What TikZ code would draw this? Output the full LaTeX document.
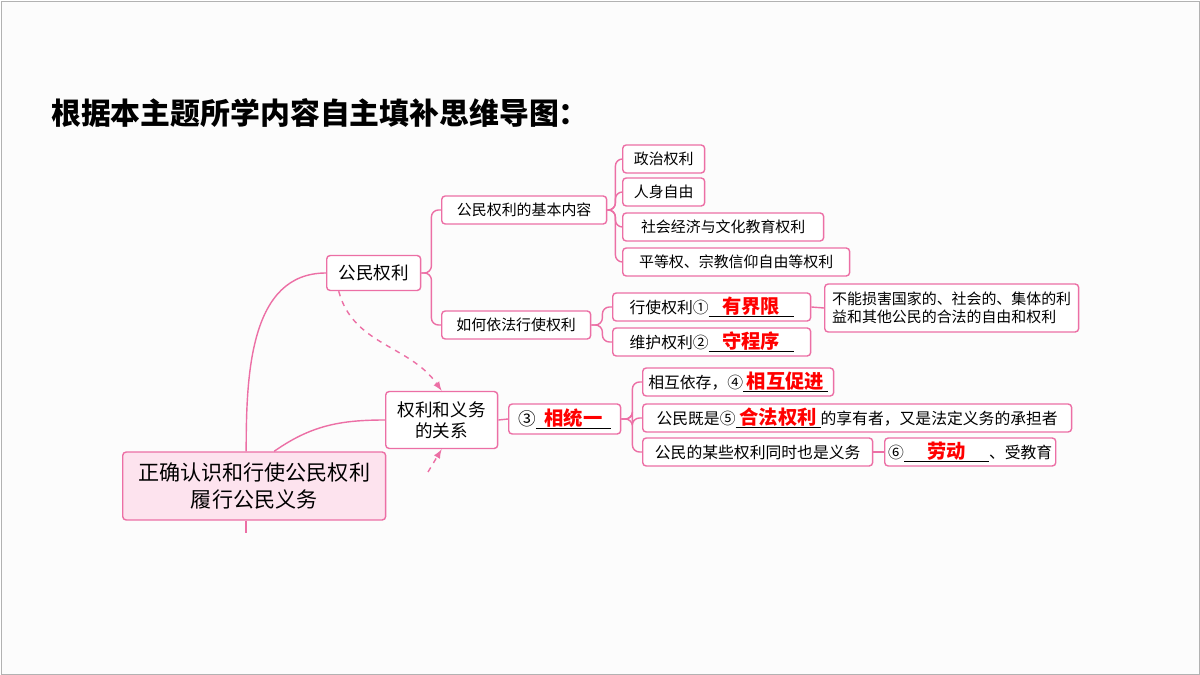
\documentclass[tikz,border=0pt]{standalone}
\usepackage{fontspec}
\setmainfont{Noto Sans CJK SC}
\definecolor{pk}{HTML}{EC6FA5}
\definecolor{pkfill}{HTML}{FDE3EE}
\newcommand\fillin[2]{\rlap{\rule[-2pt]{#1}{0.5pt}}\makebox[#1]{\color{red}\fontsize{11}{12}\selectfont\bfseries #2}}
\begin{document}
\begin{tikzpicture}[x=0.02cm,y=-0.02cm]
	\tikzset{bx/.style={draw=pk, thick, rounded corners=2pt, fill=white, inner sep=2pt, font=\fontsize{8.5}{10}\selectfont, anchor=west, minimum height=0.56cm},
	link/.style={draw=pk, thick, rounded corners=4pt},
	curv/.style={draw=pk, thick}};

	\useasboundingbox (0,0) rectangle (1200,675);
	\draw[gray!60, fill=gray!2] (1,1) rectangle (1199,674);

	\node[anchor=base west, font=\fontsize{17}{20}\selectfont\bfseries] (title) at (45,125) {根据本主题所学内容自主填补思维导图：};

	% root and main branches
	\node[bx, fill=pkfill, font=\fontsize{12}{15}\selectfont, align=center, minimum width=5.26cm, minimum height=1.36cm] (root) at (122,486) {正确认识和行使公民权利\\履行公民义务};
	\node[bx, font=\fontsize{10}{12}\selectfont, minimum width=1.88cm, minimum height=0.7cm] (gm) at (326,273) {公民权利};
	\node[bx, font=\fontsize{10}{12}\selectfont, align=center, minimum width=2.24cm, minimum height=1.14cm] (gx) at (385,420) {权利和义务\\的关系};
	\node[bx, font=\fontsize{10}{12}\selectfont, minimum width=2.24cm, minimum height=0.6cm] (ty) at (508,419) {③\fillin{1.5cm}{相统一}};

	% rights
	\node[bx, minimum width=3.3cm] (jb) at (441,210) {公民权利的基本内容};
	\node[bx, minimum width=2.98cm] (yf) at (441,325) {如何依法行使权利};
	\node[bx, minimum width=1.64cm] (zz) at (622,159) {政治权利};
	\node[bx, minimum width=1.64cm] (rs) at (622,192) {人身自由};
	\node[bx, minimum width=4.02cm] (sh) at (622,227) {社会经济与文化教育权利};
	\node[bx, minimum width=4.54cm] (pd) at (622,262) {平等权、宗教信仰自由等权利};
	\node[bx, minimum width=3.96cm, font=\fontsize{9}{11}\selectfont] (xs) at (612,307) {行使权利①\fillin{1.7cm}{有界限}};
	\node[bx, minimum width=3.96cm, font=\fontsize{9}{11}\selectfont] (wh) at (612,342) {维护权利②\fillin{1.7cm}{守程序}};
	\node[bx, align=left, minimum width=5.08cm, minimum height=0.96cm] (bn) at (824,308) {不能损害国家的、社会的、集体的利\\益和其他公民的合法的自由和权利};

	% relation
	\node[bx, minimum width=3.82cm, font=\fontsize{9}{11}\selectfont] (xh) at (642,382) {相互依存，④\fillin{1.7cm}{相互促进}};
	\node[bx, minimum width=8.58cm, font=\fontsize{9}{11}\selectfont] (gj) at (642,418) {公民既是⑤\fillin{1.7cm}{合法权利}的享有者，又是法定义务的承担者};
	\node[bx, minimum width=4.6cm, font=\fontsize{9}{11}\selectfont] (mx) at (642,452) {公民的某些权利同时也是义务};
	\node[bx, minimum width=3.42cm, font=\fontsize{9}{11}\selectfont] (ld) at (884,452) {⑥\fillin{1.7cm}{劳动}、受教育};

	% connectors
	\draw[curv] (root.north) ++(-8,0) to[out=90, in=180] (gm.west);
	\draw[curv] (root.south) ++(-8,0) -- ++(0,12);
	\draw[curv] (root.north) ++(20,0) to[out=35, in=180] (gx.west);
	\draw[curv] (gx.east) -- (ty.west);
	\draw[link] (gm.east) -- ++(10,0) |- (jb.west);
	\draw[link] (gm.east) -- ++(10,0) |- (yf.west);
	\foreach \c in {zz,rs,sh,pd} \draw[link] (jb.east) -- ++(8,0) |- (\c.west);
	\foreach \c in {xs,wh} \draw[link] (yf.east) -- ++(11,0) |- (\c.west);
	\draw[curv] (xs.east) -- (bn.west);
	\foreach \c in {xh,gj,mx} \draw[link] (ty.east) -- ++(11,0) |- (\c.west);
	\draw[curv] (mx.east) -- (ld.west);
	\draw[pk, thick, dashed, -latex] (gm.south) ++(-35,0) to[out=-75, in=125] (gx.north);
	\coordinate (stub) at (428,472);
	\draw[pk, thick, dashed, -latex] (stub) -- (gx.south);
\end{tikzpicture}
\end{document}
